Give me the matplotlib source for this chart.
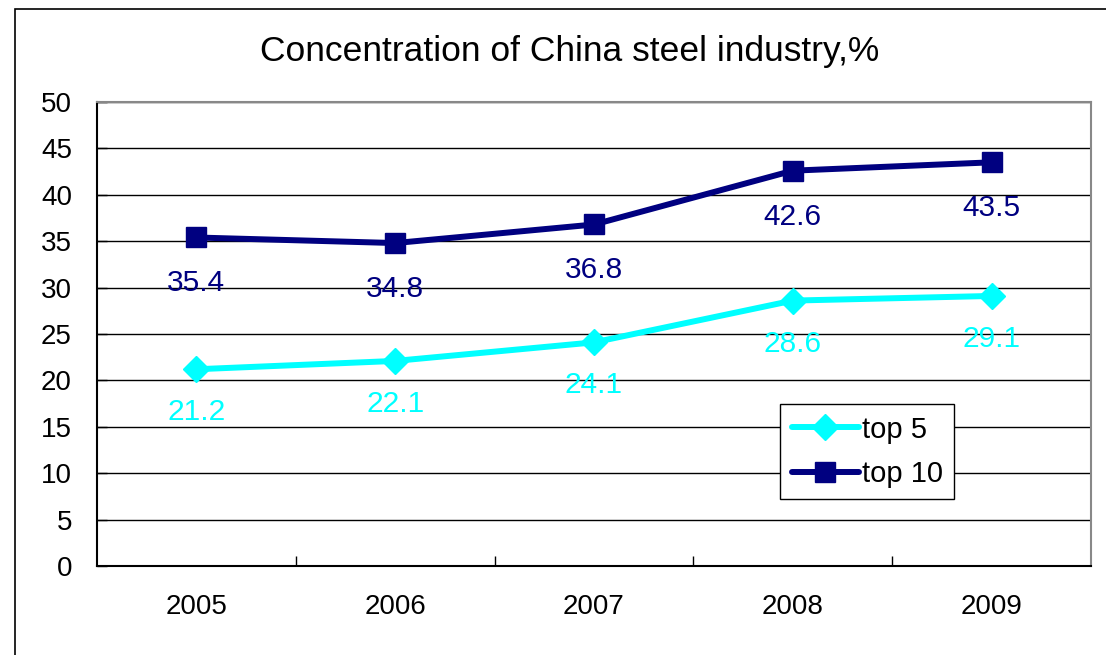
import matplotlib.pyplot as plt
from matplotlib.patches import Rectangle

years = ["2005", "2006", "2007", "2008", "2009"]
top5 = [21.2, 22.1, 24.1, 28.6, 29.1]
top10 = [35.4, 34.8, 36.8, 42.6, 43.5]

plt.rcParams['font.family'] = ['Liberation Sans', 'DejaVu Sans']

fig = plt.figure(figsize=(11.06, 6.55), dpi=100)
W, H = 1106, 655
ax = fig.add_axes([97 / W, 1 - 566 / H, (1091 - 97) / W, (566 - 102) / H])

# outer chart border (clipped at right and bottom like the source)
fig.patches.append(Rectangle((15 / W, -0.05), 1.2, 1 - 9 / H + 0.05, transform=fig.transFigure,
                             fill=False, edgecolor='black', linewidth=1.2))

x = list(range(len(years)))
ax.plot(x, top5, color='#00FFFF', lw=4.3, marker='D', ms=13, label='top 5',
        solid_capstyle='round')
ax.plot(x, top10, color='#000080', lw=4.3, marker='s', ms=15, label='top 10',
        solid_capstyle='round')

for xi, v in zip(x, top5):
    ax.annotate(f"{v}", (xi, v), xytext=(0, -31), textcoords='offset points',
                ha='center', va='center', fontsize=21.5, color='#00FFFF')
for xi, v in zip(x, top10):
    ax.annotate(f"{v}", (xi, v), xytext=(0, -33), textcoords='offset points',
                ha='center', va='center', fontsize=21.5, color='#000080')

ax.set_xlim(-0.5, 4.5)
ax.set_ylim(0, 50)
ax.set_yticks(range(0, 51, 5))
ax.set_xticks([i + 0.5 for i in range(4)])
ax.set_xticklabels([])
ax.set_xticks(x, minor=True)
ax.set_xticklabels(years, minor=True, fontsize=20)
ax.tick_params(axis='x', which='minor', length=0, pad=20)
ax.tick_params(axis='x', which='major', direction='in', length=7, width=1)
ax.tick_params(axis='y', direction='in', length=7, width=1, labelsize=20, pad=18)
ax.grid(axis='y', color='black', lw=1)
ax.set_axisbelow(True)

for s in ['left', 'bottom']:
    ax.spines[s].set_color('black')
    ax.spines[s].set_linewidth(1.5)
for s in ['top', 'right']:
    ax.spines[s].set_color('#888888')
    ax.spines[s].set_linewidth(1.5)

leg = ax.legend(loc='upper left', bbox_to_anchor=((780 - 97) / 994, (566 - 404) / 464),
                fontsize=21, frameon=True, fancybox=False, edgecolor='black',
                handlelength=2.3, handletextpad=0.1, borderpad=0.4, labelspacing=0.55,
                borderaxespad=0, framealpha=1)
leg.get_frame().set_linewidth(1)

fig.text(570 / W, 1 - 52 / H, "Concentration of China steel industry,%", ha='center',
         va='center', fontsize=25.5)

fig.savefig("out.png", dpi=100)
